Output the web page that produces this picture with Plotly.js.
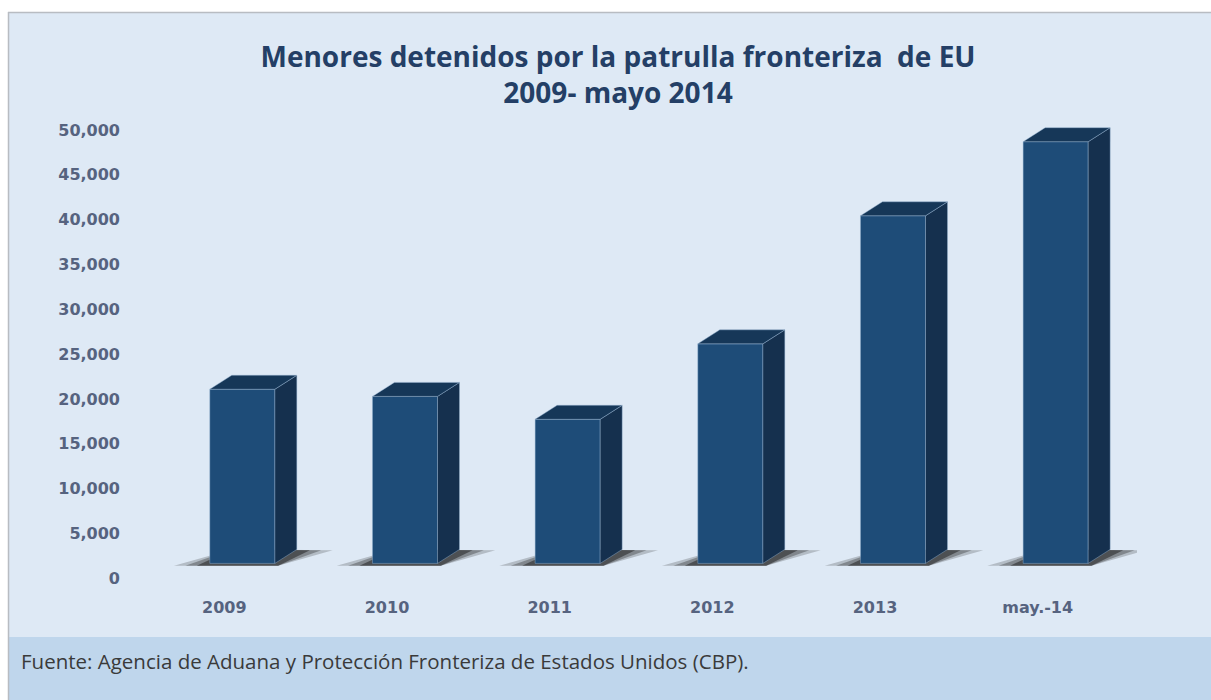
<!DOCTYPE html>
<html>
<head>
<meta charset="utf-8">
<script src="https://cdn.plot.ly/plotly-3.0.1.min.js"></script>
<style>html,body{margin:0;padding:0;background:#fff;}#chart{width:1211px;height:700px;}</style>
</head>
<body>
<div id="chart"></div>
<script>
// ---- data ----
const categories = ['2009', '2010', '2011', '2012', '2013', 'may.-14'];
const values = [19418, 18622, 16067, 24481, 38759, 47017];
const yTickVals = [0, 5000, 10000, 15000, 20000, 25000, 30000, 35000, 40000, 45000, 50000];
const yTickText = ['0', '5,000', '10,000', '15,000', '20,000', '25,000', '30,000', '35,000', '40,000', '45,000', '50,000'];
const titleText = 'Menores detenidos por la patrulla fronteriza  de EU<br>2009- mayo 2014';
const sourceText = 'Fuente: Agencia de Aduana y Protección Fronteriza de Estados Unidos (CBP).';

// ---- layout geometry ----
const W = 1211, H = 700;
const M = {l: 161, r: 74, t: 97, b: 133};
const PW = W - M.l - M.r, PH = H - M.t - M.b;
const px2x = px => (px - M.l) / PW;
const py2y = py => (H - M.b - py) / PH;

const barW = 0.40;     // bar width in category units
const dx = 0.135;      // 3D depth offset (x)
const dy = 1560;       // 3D depth offset (y)

const xs = categories.map((c, i) => i);

const shapes = [];
// background framing
shapes.push({type: 'rect', xref: 'paper', yref: 'paper', x0: px2x(-5), x1: px2x(W + 5), y0: py2y(12), y1: py2y(-5), fillcolor: '#ffffff', line: {width: 0}, layer: 'below'});
shapes.push({type: 'rect', xref: 'paper', yref: 'paper', x0: px2x(-5), x1: px2x(8), y0: py2y(H + 5), y1: py2y(-5), fillcolor: '#ffffff', line: {width: 0}, layer: 'below'});
shapes.push({type: 'rect', xref: 'paper', yref: 'paper', x0: px2x(9), x1: px2x(W + 5), y0: py2y(H + 5), y1: py2y(637), fillcolor: '#bfd6ec', line: {width: 0}, layer: 'below'});
shapes.push({type: 'line', xref: 'paper', yref: 'paper', x0: px2x(8), x1: px2x(W + 5), y0: py2y(12.5), y1: py2y(12.5), line: {color: '#b8bcc2', width: 1.5}, layer: 'below'});
shapes.push({type: 'line', xref: 'paper', yref: 'paper', x0: px2x(8.5), x1: px2x(8.5), y0: py2y(12), y1: py2y(H + 5), line: {color: '#b8bcc2', width: 1.5}, layer: 'below'});

// shadows
const shadowLayers = [[0.22, 0.22], [0.15, 0.32], [0.08, 0.5]];
xs.forEach((c, i) => {
  const xL = c - barW / 2, xR = c + barW / 2;
  shadowLayers.forEach(([s, op]) => {
    shapes.push({type: 'path', xref: 'x', yref: 'y', layer: 'below',
      path: `M ${xL - s},-250 L ${xR + 0.02},-250 L ${xR + dx + s},${dy - 100} L ${xL + dx},${dy} Z`,
      fillcolor: '#1a1a1a', opacity: op, line: {width: 0}});
  });
});

// 3D side and top faces
const edge = {color: 'rgba(150,180,210,0.55)', width: 0.8};
xs.forEach((c, i) => {
  const v = values[i];
  const xL = c - barW / 2, xR = c + barW / 2;
  shapes.push({type: 'path', xref: 'x', yref: 'y', layer: 'above',
    path: `M ${xR},0 L ${xR + dx},${dy} L ${xR + dx},${v + dy} L ${xR},${v} Z`,
    fillcolor: '#15304e', line: edge});
  shapes.push({type: 'path', xref: 'x', yref: 'y', layer: 'above',
    path: `M ${xL},${v} L ${xL + dx},${v + dy} L ${xR + dx},${v + dy} L ${xR},${v} Z`,
    fillcolor: '#163758', line: edge});
});

const trace = {
  type: 'bar', x: xs, y: values, width: barW,
  marker: {color: '#1e4c78', line: edge},
  hoverinfo: 'x+y', showlegend: false
};

const tickFont = {family: 'DejaVu Sans', size: 16, color: '#56637f', weight: 'bold'};

const layout = {
  width: W, height: H,
  margin: M,
  paper_bgcolor: '#dee9f5',
  plot_bgcolor: 'rgba(0,0,0,0)',
  showlegend: false,
  title: {
    text: titleText,
    font: {family: 'Open Sans', size: 28, color: '#243f66', weight: 'bold'},
    x: 618 / W, xanchor: 'center',
    y: 1 - 67 / H, yanchor: 'top', yref: 'container'
  },
  xaxis: {
    range: [-0.5, 5.5],
    tickvals: xs, ticktext: categories,
    showgrid: false, zeroline: false, showline: false, ticks: '',
    tickfont: tickFont,
    ticklabelshift: -18, ticklabelstandoff: 29,
    fixedrange: true
  },
  yaxis: {
    range: [-400, 52000],
    tickvals: yTickVals, ticktext: yTickText,
    showgrid: false, zeroline: false, showline: false, ticks: '',
    tickfont: tickFont,
    ticklabelshift: 15, ticklabelstandoff: 40,
    fixedrange: true
  },
  shapes: shapes,
  annotations: [{
    xref: 'paper', yref: 'paper', x: px2x(19), y: py2y(661),
    xanchor: 'left', yanchor: 'middle', showarrow: false,
    text: sourceText,
    font: {family: 'Open Sans', size: 20.5, color: '#3a3a3a'}
  }]
};

Plotly.newPlot('chart', [trace], layout, {displayModeBar: false, staticPlot: true});
</script>
</body>
</html>
